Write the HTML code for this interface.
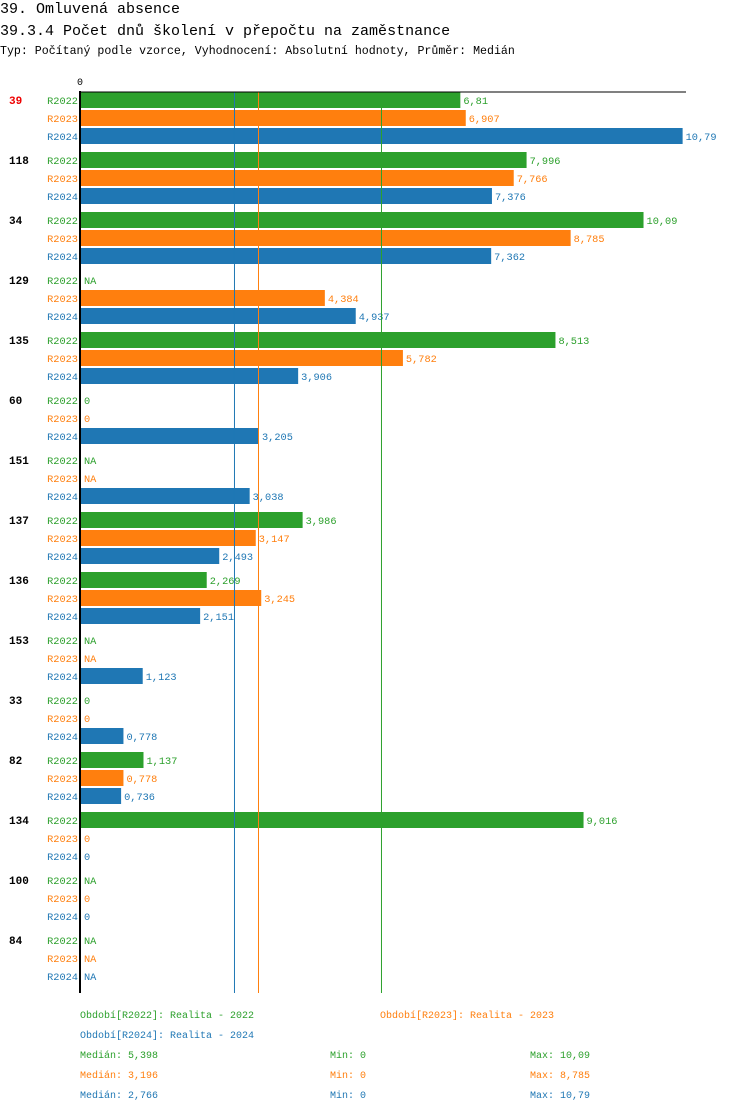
<!DOCTYPE html>
<html><head><meta charset="utf-8"><style>
body{margin:0;background:#fff;width:750px;height:1112px;overflow:hidden;font-family:"Liberation Mono","DejaVu Sans Mono",monospace}
svg{position:absolute;left:0;top:0}
</style></head><body>
<svg id="c" width="750" height="1112"></svg>
<script>
const groups=["39","118","34","129","135","60","151","137","136","153","33","82","134","100","84"];
const series=["R2022","R2023","R2024"];
const v2022=[6.81,7.996,10.09,null,8.513,0,null,3.986,2.269,null,0,1.137,9.016,null,null];
const v2023=[6.907,7.766,8.785,4.384,5.782,0,null,3.147,3.245,null,0,0.778,0,0,null];
const v2024=[10.79,7.376,7.362,4.937,3.906,3.205,3.038,2.493,2.151,1.123,0.778,0.736,0,0,null];
const medians=[5.398,3.196,2.766];
const mins=[0,0,0];
const maxs=["10,09","8,785","10,79"];
const colors=["#2ca02c","#ff7f0e","#1f77b4"];
const vals=[v2022,v2023,v2024];
const NS="http://www.w3.org/2000/svg",svg=document.getElementById('c');
const x=v=>80+v*55.85;
const fmt=v=>{let s=String(+v.toPrecision(4));return s.replace('.',',');};
function el(t,a,txt){const e=document.createElementNS(NS,t);for(const k in a)e.setAttribute(k,a[k]);if(txt!=null)e.textContent=txt;svg.appendChild(e);return e;}
let t;
t=el('text',{x:0,y:13,'font-size':15,fill:'#000'},'39. Omluvená absence');


t=el('text',{x:0,y:35,'font-size':15,fill:'#000'},'39.3.4 Počet dnů školení v přepočtu na zaměstnance');


t=el('text',{x:0,y:54,'font-size':11.6,fill:'#000'},'Typ: Počítaný podle vzorce, Vyhodnocení: Absolutní hodnoty, Průměr: Medián');


t=el('text',{x:77,y:85,'font-size':10,fill:'#000'},'0');


groups.forEach((g,gi)=>{
  const base=100+gi*60;
  t=el('text',{x:9,y:base+4,'font-size':11,'font-weight':'bold',fill:gi==0?'#e00':'#000'},g);
  
  
  series.forEach((s,si)=>{
    const cy=base+si*18,v=vals[si][gi],c=colors[si];
    t=el('text',{x:78,y:cy+4,'font-size':10.3,fill:c,'text-anchor':'end'},s);
    
    
    let lx=84;
    if(v!=null&&v>0){
      const r=el('rect',{x:81,y:cy-8,width:x(v)-81,height:16,fill:c});
      
      
      lx=x(v)+3;
    }
    t=el('text',{x:lx,y:cy+4,'font-size':10.3,fill:c},v==null?'NA':fmt(v));
    
    
  });
});
medians.forEach((m,i)=>{
  const l=el('line',{x1:x(m),x2:x(m),y1:92,y2:993,stroke:colors[i],'stroke-width':1});
  
  
});
let a=el('line',{x1:80,x2:80,y1:91,y2:993,stroke:'#000','stroke-width':2});


a=el('line',{x1:79,x2:686,y1:92,y2:92,stroke:'#000','stroke-width':1});


const leg=[[80,1018,'Období[R2022]: Realita - 2022',0],[380,1018,'Období[R2023]: Realita - 2023',1],[80,1038,'Období[R2024]: Realita - 2024',2]];
leg.forEach(l=>{t=el('text',{x:l[0],y:l[1],'font-size':10,fill:colors[l[3]]},l[2]);

});
medians.forEach((m,i)=>{
  const y=1058+i*20;
  t=el('text',{x:80,y:y,'font-size':10,fill:colors[i]},'Medián: '+fmt(m));
  
  
  t=el('text',{x:330,y:y,'font-size':10,fill:colors[i]},'Min: '+mins[i]);
  
  
  t=el('text',{x:530,y:y,'font-size':10,fill:colors[i]},'Max: '+maxs[i]);
  
  
});
</script>
</body></html>
